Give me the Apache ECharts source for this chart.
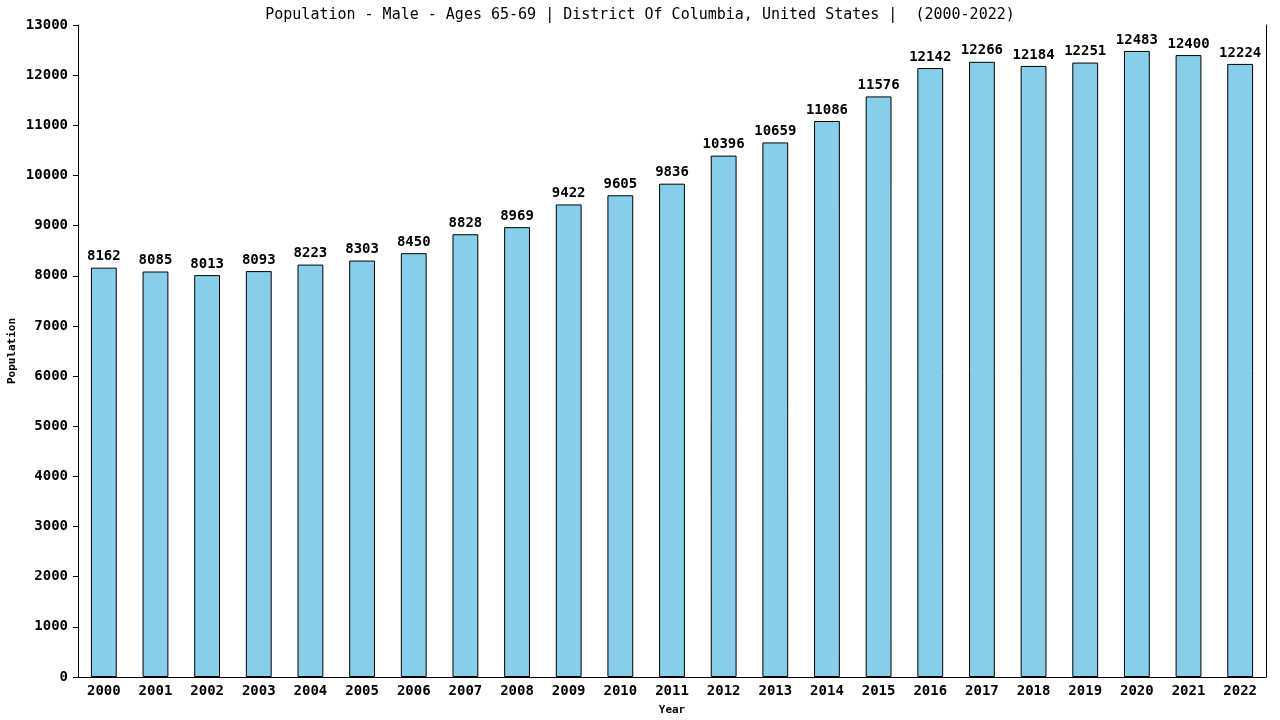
<!DOCTYPE html>
<html>
<head>
<meta charset="utf-8">
<script src="https://cdn.jsdelivr.net/npm/echarts@6/dist/echarts.min.js"></script>
<style>
html, body { margin: 0; padding: 0; background: #fff; }
#main { width: 1280px; height: 720px; }
</style>
</head>
<body>
<div id="main"></div>
<script>
var years = ['2000','2001','2002','2003','2004','2005','2006','2007','2008','2009','2010','2011',
             '2012','2013','2014','2015','2016','2017','2018','2019','2020','2021','2022'];
var population = [8162, 8085, 8013, 8093, 8223, 8303, 8450, 8828, 8969, 9422, 9605, 9836,
                  10396, 10659, 11086, 11576, 12142, 12266, 12184, 12251, 12483, 12400, 12224];

var font = 'DejaVu Sans Mono';
var dom = document.getElementById('main');
var myChart = echarts.init(dom);
var option = {
    animation: false,
    title: {
        text: 'Population - Male - Ages 65-69 | District Of Columbia, United States |  (2000-2022)',
        left: 'center',
        top: 3,
        textStyle: { fontFamily: font, fontSize: 15, fontWeight: 'normal', color: '#000' }
    },
    grid: { left: 78, right: 14, top: 25, bottom: 43, outerBoundsMode: 'none' },
    xAxis: {
        type: 'category',
        data: years,
        name: 'Year',
        nameLocation: 'middle',
        nameGap: 28,
        nameMoveOverlap: false,
        nameTextStyle: { fontFamily: font, fontSize: 11, fontWeight: 'bold', color: '#000' },
        axisLine: { lineStyle: { color: '#000', width: 1 } },
        axisTick: { show: false },
        axisLabel: { fontFamily: font, fontSize: 14, fontWeight: 'bold', color: '#000', margin: 7 }
    },
    yAxis: [{
        type: 'value',
        min: 0,
        max: 13000,
        interval: 1000,
        name: 'Population',
        nameLocation: 'middle',
        nameGap: 60,
        nameMoveOverlap: false,
        nameTextStyle: { fontFamily: font, fontSize: 11, fontWeight: 'bold', color: '#000' },
        axisLine: { show: true, lineStyle: { color: '#000', width: 1 } },
        axisTick: { show: true, length: 5, lineStyle: { color: '#000' } },
        axisLabel: {
            fontFamily: font, fontSize: 14, fontWeight: 'bold', color: '#000', margin: 10,
            formatter: function (v) { return String(v); }
        },
        splitLine: { show: false }
    }, {
        type: 'value',
        min: 0,
        max: 13000,
        interval: 1000,
        position: 'right',
        axisLine: { show: true, lineStyle: { color: '#000', width: 1 } },
        axisTick: { show: false },
        axisLabel: { show: false },
        splitLine: { show: false }
    }],
    series: [{
        type: 'bar',
        data: population,
        barWidth: '50%',
        itemStyle: { color: '#87ceeb', borderColor: '#000', borderWidth: 1 },
        label: {
            show: true,
            position: 'top',
            distance: 4,
            fontFamily: font,
            fontSize: 14,
            fontWeight: 'bold',
            color: '#000'
        }
    }]
};
if (option && typeof option === 'object') {
    myChart.setOption(option, true);
}
</script>
</body>
</html>
